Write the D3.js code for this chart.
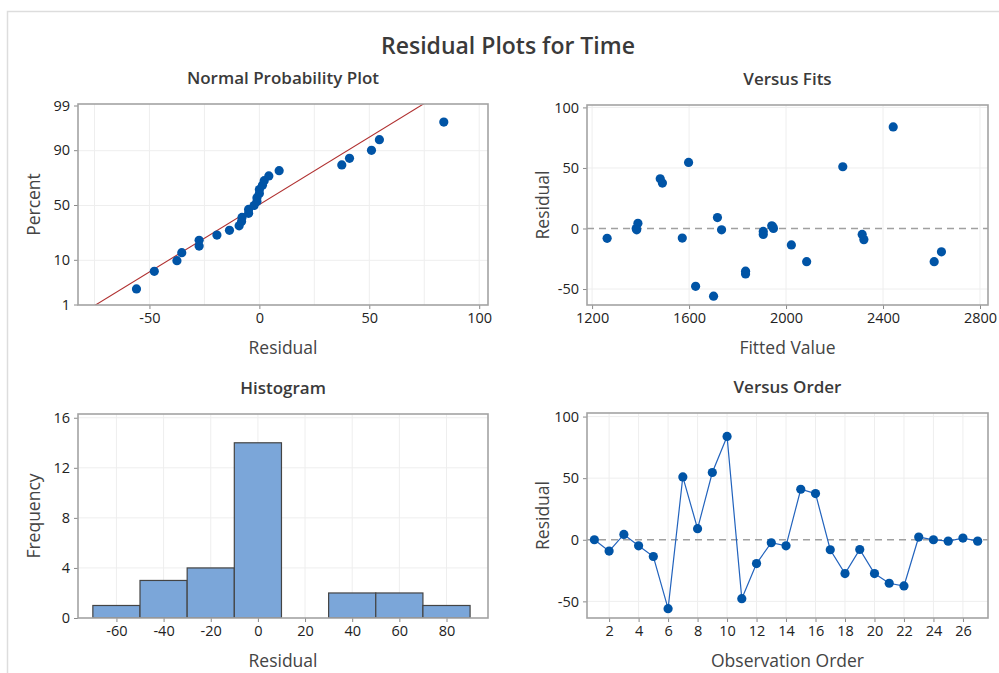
<!DOCTYPE html>
<html>
<head>
<meta charset="utf-8">
<script src="https://cdn.jsdelivr.net/npm/d3@7"></script>
<style>
  html, body { margin: 0; padding: 0; background: #fff; }
  svg { display: block; font-family: "Open Sans", "Noto Sans", sans-serif; }
</style>
</head>
<body>
<svg id="chart" width="999" height="673"></svg>
<script>
// Residuals of the Time model, in observation order
const residuals = [0, -9.2, 4.3, -4.9, -13.6, -55.9, 51, 9.0, 54.6, 83.9,
  -47.8, -19.3, -2.4, -4.9, 41, 37.5, -8.1, -27.4, -7.9, -27.4,
  -35.3, -37.5, 2.2, 0, -1.1, 1.4, -1.1];
// Fitted values for the same observations
const fittedValues = [1382, 2321, 1389, 2314, 2022, 1701, 2234, 1717, 1598, 2442,
  1627, 2641, 1906, 1906, 1481, 1490, 1262, 2085, 1572, 2611,
  1833, 1833, 1941, 1948, 1734, 1945, 1384];
const observationOrder = d3.range(1, residuals.length + 1);

// Tick labels
const percentTicks = [1, 10, 50, 90, 99];
const npResidualTicks = [-50, 0, 50, 100];
const fitTicks = [1200, 1600, 2000, 2400, 2800];
const residualTicks = [-50, 0, 50, 100];
const freqTicks = [0, 4, 8, 12, 16];
const histTicks = [-60, -40, -20, 0, 20, 40, 60, 80];
const orderTicks = d3.range(2, 27, 2);
const histThresholds = d3.range(-70, 91, 20);

const POINT = "#0054a6";
const LINE = "#2263bd";
const GRID = "#eeeeee";
const BOX = "#a3a3a3";
const FONT = '"Open Sans", "Noto Sans", sans-serif';
const TICK_SIZE = "14.5px";

const svg = d3.select("#chart");
svg.append("rect").attr("width", 999).attr("height", 673).attr("fill", "#fff");

// outer frame
svg.append("path")
  .attr("d", "M7.5,673 V11.5 H999")
  .attr("fill", "none").attr("stroke", "#dddddd").attr("stroke-width", 1.5);

svg.append("text").attr("x", 508).attr("y", 54).attr("text-anchor", "middle")
  .attr("font-size", 23).attr("font-weight", 600).attr("fill", "#3a3a3a")
  .text("Residual Plots for Time");

// inverse standard normal CDF (Acklam)
function probit(p) {
  const a = [-3.969683028665376e+01, 2.209460984245205e+02, -2.759285104469687e+02,
    1.383577518672690e+02, -3.066479806614716e+01, 2.506628277459239e+00];
  const b = [-5.447609879822406e+01, 1.615858368580409e+02, -1.556989798598866e+02,
    6.680131188771972e+01, -1.328068155288572e+01];
  const c = [-7.784894002430293e-03, -3.223964580411365e-01, -2.400758277161838e+00,
    -2.549671010243138e+00, 4.374664141464968e+00, 2.938163982698783e+00];
  const d = [7.784695709041462e-03, 3.224671290700398e-01, 2.445134137142996e+00,
    3.754408661907416e+00];
  const pl = 0.02425;
  let q, r;
  if (p < pl) {
    q = Math.sqrt(-2 * Math.log(p));
    return (((((c[0]*q+c[1])*q+c[2])*q+c[3])*q+c[4])*q+c[5]) / ((((d[0]*q+d[1])*q+d[2])*q+d[3])*q+1);
  } else if (p <= 1 - pl) {
    q = p - 0.5; r = q * q;
    return (((((a[0]*r+a[1])*r+a[2])*r+a[3])*r+a[4])*r+a[5])*q / (((((b[0]*r+b[1])*r+b[2])*r+b[3])*r+b[4])*r+1);
  } else {
    q = Math.sqrt(-2 * Math.log(1 - p));
    return -(((((c[0]*q+c[1])*q+c[2])*q+c[3])*q+c[4])*q+c[5]) / ((((d[0]*q+d[1])*q+d[2])*q+d[3])*q+1);
  }
}

// panel frame: title, box, axis titles
function panel(id, box, title, xTitle, yTitle) {
  const g = svg.append("g").attr("id", id);
  const cx = (box.x0 + box.x1) / 2, cy = (box.y0 + box.y1) / 2;
  g.append("text").attr("x", cx).attr("y", box.y0 - 20).attr("text-anchor", "middle")
    .attr("font-size", 17).attr("font-weight", 600).attr("fill", "#3a3a3a").text(title);
  g.append("text").attr("x", cx).attr("y", box.y1 + 49).attr("text-anchor", "middle")
    .attr("font-size", 17.5).attr("fill", "#444").text(xTitle);
  g.append("text").attr("transform", `translate(${box.x0 - 38},${cy}) rotate(-90)`)
    .attr("text-anchor", "middle").attr("font-size", 17.5).attr("fill", "#444").text(yTitle);
  const clipId = id + "-clip";
  g.append("clipPath").attr("id", clipId).append("rect")
    .attr("x", box.x0).attr("y", box.y0).attr("width", box.x1 - box.x0).attr("height", box.y1 - box.y0);
  const grid = g.append("g");
  const plot = g.append("g").attr("clip-path", `url(#${clipId})`);
  const over = g.append("g");
  return { g, grid, plot, over, box };
}

function drawBox(p) {
  const b = p.box;
  p.g.append("rect").attr("x", b.x0).attr("y", b.y0).attr("width", b.x1 - b.x0).attr("height", b.y1 - b.y0)
    .attr("fill", "none").attr("stroke", BOX).attr("stroke-width", 1.6);
}

function styleTickText(sel) {
  sel.style("font-family", FONT).style("font-size", TICK_SIZE).style("fill", "#222");
}

function styleAxis(sel) {
  sel.select(".domain").remove();
  sel.selectAll(".tick line").attr("stroke", "#8a8a8a");
  sel.selectAll(".tick text").call(styleTickText);
}

function vGrid(p, x, values) {
  p.grid.selectAll(null).data(values).join("line")
    .attr("x1", d => x(d)).attr("x2", d => x(d)).attr("y1", p.box.y0).attr("y2", p.box.y1)
    .attr("stroke", GRID).attr("stroke-width", 1);
}
function hGrid(p, y, values) {
  p.grid.selectAll(null).data(values).join("line")
    .attr("y1", d => y(d)).attr("y2", d => y(d)).attr("x1", p.box.x0).attr("x2", p.box.x1)
    .attr("stroke", GRID).attr("stroke-width", 1);
}

function xAxis(p, x, ticks, fmt) {
  p.over.append("g").attr("transform", `translate(0,${p.box.y1})`)
    .call(d3.axisBottom(x).tickValues(ticks).tickSize(4).tickPadding(4).tickFormat(fmt || (d => d)))
    .call(styleAxis);
}
function yAxis(p, y, ticks, fmt) {
  p.over.append("g").attr("transform", `translate(${p.box.x0},0)`)
    .call(d3.axisLeft(y).tickValues(ticks).tickSize(4).tickPadding(4).tickFormat(fmt || (d => d)))
    .call(styleAxis);
}

const leftX = [78, 488], rightX = [587, 988];
const topY = [105, 305], botY = [414, 618];

// ---------- Normal Probability Plot ----------
{
  const p = panel("normal", { x0: leftX[0], x1: leftX[1], y0: topY[0] - 1, y1: topY[1] },
    "Normal Probability Plot", "Residual", "Percent");
  const x = d3.scaleLinear().domain([-82.5, 104]).range(leftX);
  const y = d3.scaleLinear().domain([probit(0.01), probit(0.99)]).range([305, 106]);
  const n = residuals.length;
  const sorted = residuals.slice().sort(d3.ascending);
  const pts = sorted.map((r, i) => ({ r, z: probit((i + 1 - 0.3) / (n + 0.4)) }));
  vGrid(p, x, [-75, -50, -25, 0, 25, 50, 75, 100]);
  hGrid(p, d => y(probit(d / 100)), [10, 50, 90]);
  const mu = d3.mean(residuals), sd = d3.deviation(residuals);
  const zr = [-3, 3];
  p.plot.append("line")
    .attr("x1", x(mu + zr[0] * sd)).attr("y1", y(zr[0]))
    .attr("x2", x(mu + zr[1] * sd)).attr("y2", y(zr[1]))
    .attr("stroke", "#b03030").attr("stroke-width", 1.1);
  p.plot.selectAll(null).data(pts).join("circle")
    .attr("cx", d => x(d.r)).attr("cy", d => y(d.z)).attr("r", 4.6).attr("fill", POINT);
  drawBox(p);
  xAxis(p, x, npResidualTicks);
  const yp = v => y(probit(v / 100));
  const t = p.over.append("g").selectAll(null).data(percentTicks).join("g")
    .attr("transform", d => `translate(${p.box.x0},${yp(d)})`);
  t.append("line").attr("x2", -4).attr("stroke", "#8a8a8a");
  t.append("text").attr("x", -8).attr("dy", "0.32em")
    .attr("text-anchor", "end").text(d => d).call(styleTickText);
}

// ---------- Versus Fits ----------
{
  const p = panel("fits", { x0: rightX[0], x1: rightX[1], y0: topY[0], y1: topY[1] },
    "Versus Fits", "Fitted Value", "Residual");
  const x = d3.scaleLinear().domain([1179, 2833]).range(rightX);
  const y = d3.scaleLinear().domain([-63.2, 102]).range([topY[1], topY[0]]);
  vGrid(p, x, fitTicks);
  hGrid(p, y, [-50, 50, 100]);
  p.plot.append("line").attr("x1", rightX[0]).attr("x2", rightX[1]).attr("y1", y(0)).attr("y2", y(0))
    .attr("stroke", "#a0a0a0").attr("stroke-width", 1.3).attr("stroke-dasharray", "7,5");
  p.plot.selectAll(null).data(residuals.map((r, i) => ({ r, f: fittedValues[i] }))).join("circle")
    .attr("cx", d => x(d.f)).attr("cy", d => y(d.r)).attr("r", 4.6).attr("fill", POINT);
  drawBox(p);
  xAxis(p, x, fitTicks);
  yAxis(p, y, residualTicks);
}

// ---------- Histogram ----------
{
  const p = panel("hist", { x0: leftX[0], x1: leftX[1], y0: botY[0], y1: botY[1] },
    "Histogram", "Residual", "Frequency");
  const x = d3.scaleLinear().domain([-76.3, 97.6]).range(leftX);
  const y = d3.scaleLinear().domain([0, 16.3]).range([botY[1], botY[0]]);
  const bins = d3.bin().domain([histThresholds[0], histThresholds[histThresholds.length - 1]])
    .thresholds(histThresholds)(residuals);
  vGrid(p, x, histTicks);
  hGrid(p, y, [4, 8, 12, 16]);
  p.plot.selectAll(null).data(bins.filter(b => b.length > 0)).join("rect")
    .attr("x", d => x(d.x0)).attr("width", d => x(d.x1) - x(d.x0))
    .attr("y", d => y(d.length)).attr("height", d => y(0) - y(d.length))
    .attr("fill", "#7ba6d9").attr("stroke", "#444").attr("stroke-width", 1.2);
  drawBox(p);
  xAxis(p, x, histTicks);
  yAxis(p, y, freqTicks);
}

// ---------- Versus Order ----------
{
  const p = panel("order", { x0: rightX[0], x1: rightX[1], y0: botY[0] - 1, y1: botY[1] },
    "Versus Order", "Observation Order", "Residual");
  const x = d3.scaleLinear().domain([0.5, 27.7]).range(rightX);
  const y = d3.scaleLinear().domain([-63.5, 102.9]).range([botY[1], botY[0] - 1]);
  vGrid(p, x, orderTicks);
  hGrid(p, y, [-50, 50, 100]);
  p.plot.append("line").attr("x1", rightX[0]).attr("x2", rightX[1]).attr("y1", y(0)).attr("y2", y(0))
    .attr("stroke", "#a0a0a0").attr("stroke-width", 1.3).attr("stroke-dasharray", "7,5");
  const data = residuals.map((r, i) => ({ r, o: observationOrder[i] }));
  p.plot.append("path").datum(data)
    .attr("d", d3.line().x(d => x(d.o)).y(d => y(d.r)))
    .attr("fill", "none").attr("stroke", LINE).attr("stroke-width", 1.2);
  p.plot.selectAll(null).data(data).join("circle")
    .attr("cx", d => x(d.o)).attr("cy", d => y(d.r)).attr("r", 4.6).attr("fill", POINT);
  drawBox(p);
  xAxis(p, x, orderTicks);
  yAxis(p, y, residualTicks);
}
</script>
</body>
</html>
